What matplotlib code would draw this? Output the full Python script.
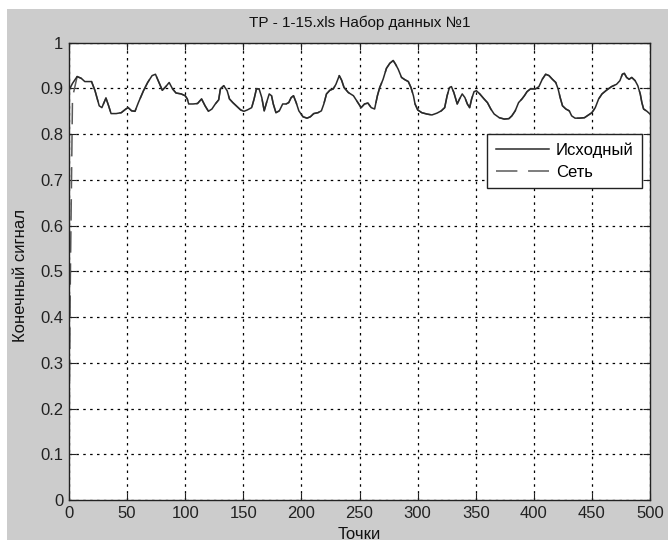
import numpy as np
import matplotlib
matplotlib.use("Agg")
import matplotlib.pyplot as plt
from matplotlib.patches import Rectangle
from matplotlib.ticker import FuncFormatter

plt.rcParams["font.family"] = ["Liberation Sans", "DejaVu Sans"]

# data
src_x = [0, 3, 7, 10.6, 13.6, 17, 19.4, 22.4, 26, 28.3, 31.8, 34.1, 36.2, 40.6, 45, 48.9,
         50.9, 53.9, 56.8, 59.7, 64.1, 67.7, 71.5, 74.4, 77.4, 80.3, 83.3, 86.2, 89.1, 92.1,
         96.5, 100, 101.8, 103, 106.8, 110.6, 114.1, 117.1, 120, 123, 125.9, 128.8,
         130.3, 133.2, 136.1, 138.1, 141, 143.9, 147.7, 150.6, 153.5, 157.2, 159.3, 161.3,
         163.6, 165.9, 168, 170, 172.3, 174.3, 175.8, 178.1, 181, 183.9, 186.8, 189.1, 191.2,
         193.2, 195.5, 197.8, 201.4, 204.8, 207.7, 210.6, 214.3, 217.2, 219.3, 221.6, 224.5,
         227.4, 229.7, 232.6, 234.6, 236.7, 240.4, 244.8, 249.3, 251.4, 254.3, 257.2, 260.1,
         263, 265.4, 267.4, 270.3, 273.2, 276.1, 279, 281, 283.3, 286.2, 289.1, 292, 294.3,
         296.4, 297.8, 300.1, 303.6, 308, 312.3, 316.7, 320.4, 323.3, 325.4, 327.4, 329.1,
         331.2, 334.1, 336.1, 338.4, 340.7, 342.8, 344.8, 346.5, 348.6, 350.6, 353.5, 357.2,
         360.1, 363, 365.9, 370.3, 374.6, 378.6, 381.1, 384, 386.9, 389.8, 391.9, 394.2,
         397.1, 401.5, 404.4, 407.3, 410.2, 413.1, 416, 418.9, 420.9, 422.7, 424.7, 427.6,
         430.5, 432.6, 435.5, 439.2, 443.6, 447.1, 450, 452.9, 455.8, 458.7, 462.5, 466.9,
         471.2, 474.1, 476.2, 477.9, 479.9, 482, 484.3, 487.2, 489.5, 491.6, 493, 494.5,
         497.4, 500]
src_y = [0.896, 0.911, 0.926, 0.922, 0.915, 0.915, 0.915, 0.895, 0.862, 0.858, 0.879, 0.862,
         0.845, 0.845, 0.847, 0.855, 0.858, 0.851, 0.85, 0.869, 0.895, 0.913, 0.928, 0.931,
         0.913, 0.896, 0.904, 0.913, 0.899, 0.89, 0.888, 0.884, 0.877, 0.866, 0.866, 0.867,
         0.877, 0.862, 0.85, 0.855, 0.866, 0.875,
         0.899, 0.906, 0.895, 0.877, 0.869, 0.862, 0.853, 0.85, 0.853, 0.858, 0.877, 0.899,
         0.899, 0.88, 0.851, 0.869, 0.888, 0.884, 0.866, 0.847, 0.851, 0.866, 0.866, 0.869,
         0.88, 0.884, 0.869, 0.851, 0.838, 0.835, 0.838, 0.845, 0.847, 0.851, 0.866, 0.888,
         0.896, 0.899, 0.909, 0.928, 0.918, 0.902, 0.891, 0.884, 0.866, 0.858, 0.866, 0.868,
         0.858, 0.855, 0.884, 0.902, 0.92, 0.944, 0.955, 0.961, 0.953, 0.942, 0.924, 0.919,
         0.915, 0.902, 0.884, 0.866, 0.853, 0.847, 0.844, 0.842, 0.846, 0.851, 0.858, 0.884,
         0.902, 0.904, 0.891, 0.866, 0.877, 0.888, 0.88, 0.866, 0.858, 0.877, 0.893, 0.895,
         0.888, 0.877, 0.869, 0.855, 0.844, 0.836, 0.833, 0.834, 0.84, 0.851, 0.869, 0.877,
         0.884, 0.893, 0.899, 0.899, 0.904, 0.92, 0.931, 0.928, 0.92, 0.913, 0.899, 0.88,
         0.862, 0.855, 0.851, 0.84, 0.835, 0.835, 0.836, 0.842, 0.847, 0.858, 0.877, 0.888,
         0.896, 0.904, 0.909, 0.917, 0.931, 0.933, 0.924, 0.92, 0.924, 0.917, 0.906, 0.888,
         0.869, 0.855, 0.85, 0.844]

# network output: ramps up from near zero, then follows the source
net_start_x = [0, 1, 3]
net_start_y = [0.12, 0.45, 0.88]
net_x = net_start_x + src_x[2:]
net_y = net_start_y + src_y[2:]

title = "ТР - 1-15.xls Набор данных №1"
xlabel = "Точки"
ylabel = "Конечный сигнал"
labels = ["Исходный", "Сеть"]

fig = plt.figure(figsize=(6.68, 5.47), dpi=100)
fig.patch.set_facecolor("white")
# gray window area (screenshot has a thin white margin)
fig.patches.append(Rectangle((7 / 668, 7 / 547), 1, 1 - 16 / 547, transform=fig.transFigure,
                             facecolor="#cccccc", edgecolor="none", zorder=-10))

ax = fig.add_axes([69 / 668, 47 / 547, 581 / 668, 457.3 / 547])
ax.set_facecolor("white")

ax.plot(src_x, src_y, color="#2a2a2a", linewidth=1.1, label=labels[0], zorder=3)
ax.plot(net_x, net_y, color="#5a5a5a", linewidth=1.1, linestyle=(0, (14, 7)),
        label=labels[1], zorder=2)

ax.set_xlim(0, 500)
ax.set_ylim(0, 1)
ax.set_xticks(np.arange(0, 501, 50))
ax.set_yticks(np.arange(0, 1.01, 0.1))
ax.yaxis.set_major_formatter(FuncFormatter(lambda v, p: "%g" % round(v, 1)))

ax.grid(True, color="black", linestyle=(0, (2, 3.5)), linewidth=0.9)
ax.tick_params(direction="in", length=5, top=True, right=True, labelsize=12,
               colors="#222222", pad=4)
for s in ax.spines.values():
    s.set_color("#222222")
    s.set_linewidth(1.0)

ax.set_title(title, fontsize=11, color="#111111", pad=11)
ax.set_xlabel(xlabel, fontsize=12, color="#111111")
ax.set_ylabel(ylabel, fontsize=12, color="#111111")
ax.xaxis.set_label_coords(0.5, -0.058)
ax.yaxis.set_label_coords(-0.071, 0.49)

leg = ax.legend(loc="upper right", bbox_to_anchor=(0.986, 0.801), fontsize=12,
                frameon=True, fancybox=False, handlelength=3.2, borderpad=0.5,
                labelspacing=0.45, handletextpad=0.4, borderaxespad=0)
leg.get_frame().set_edgecolor("#222222")
leg.get_frame().set_linewidth(1.0)
leg.get_frame().set_alpha(1)

fig.savefig("out.png", dpi=100)
